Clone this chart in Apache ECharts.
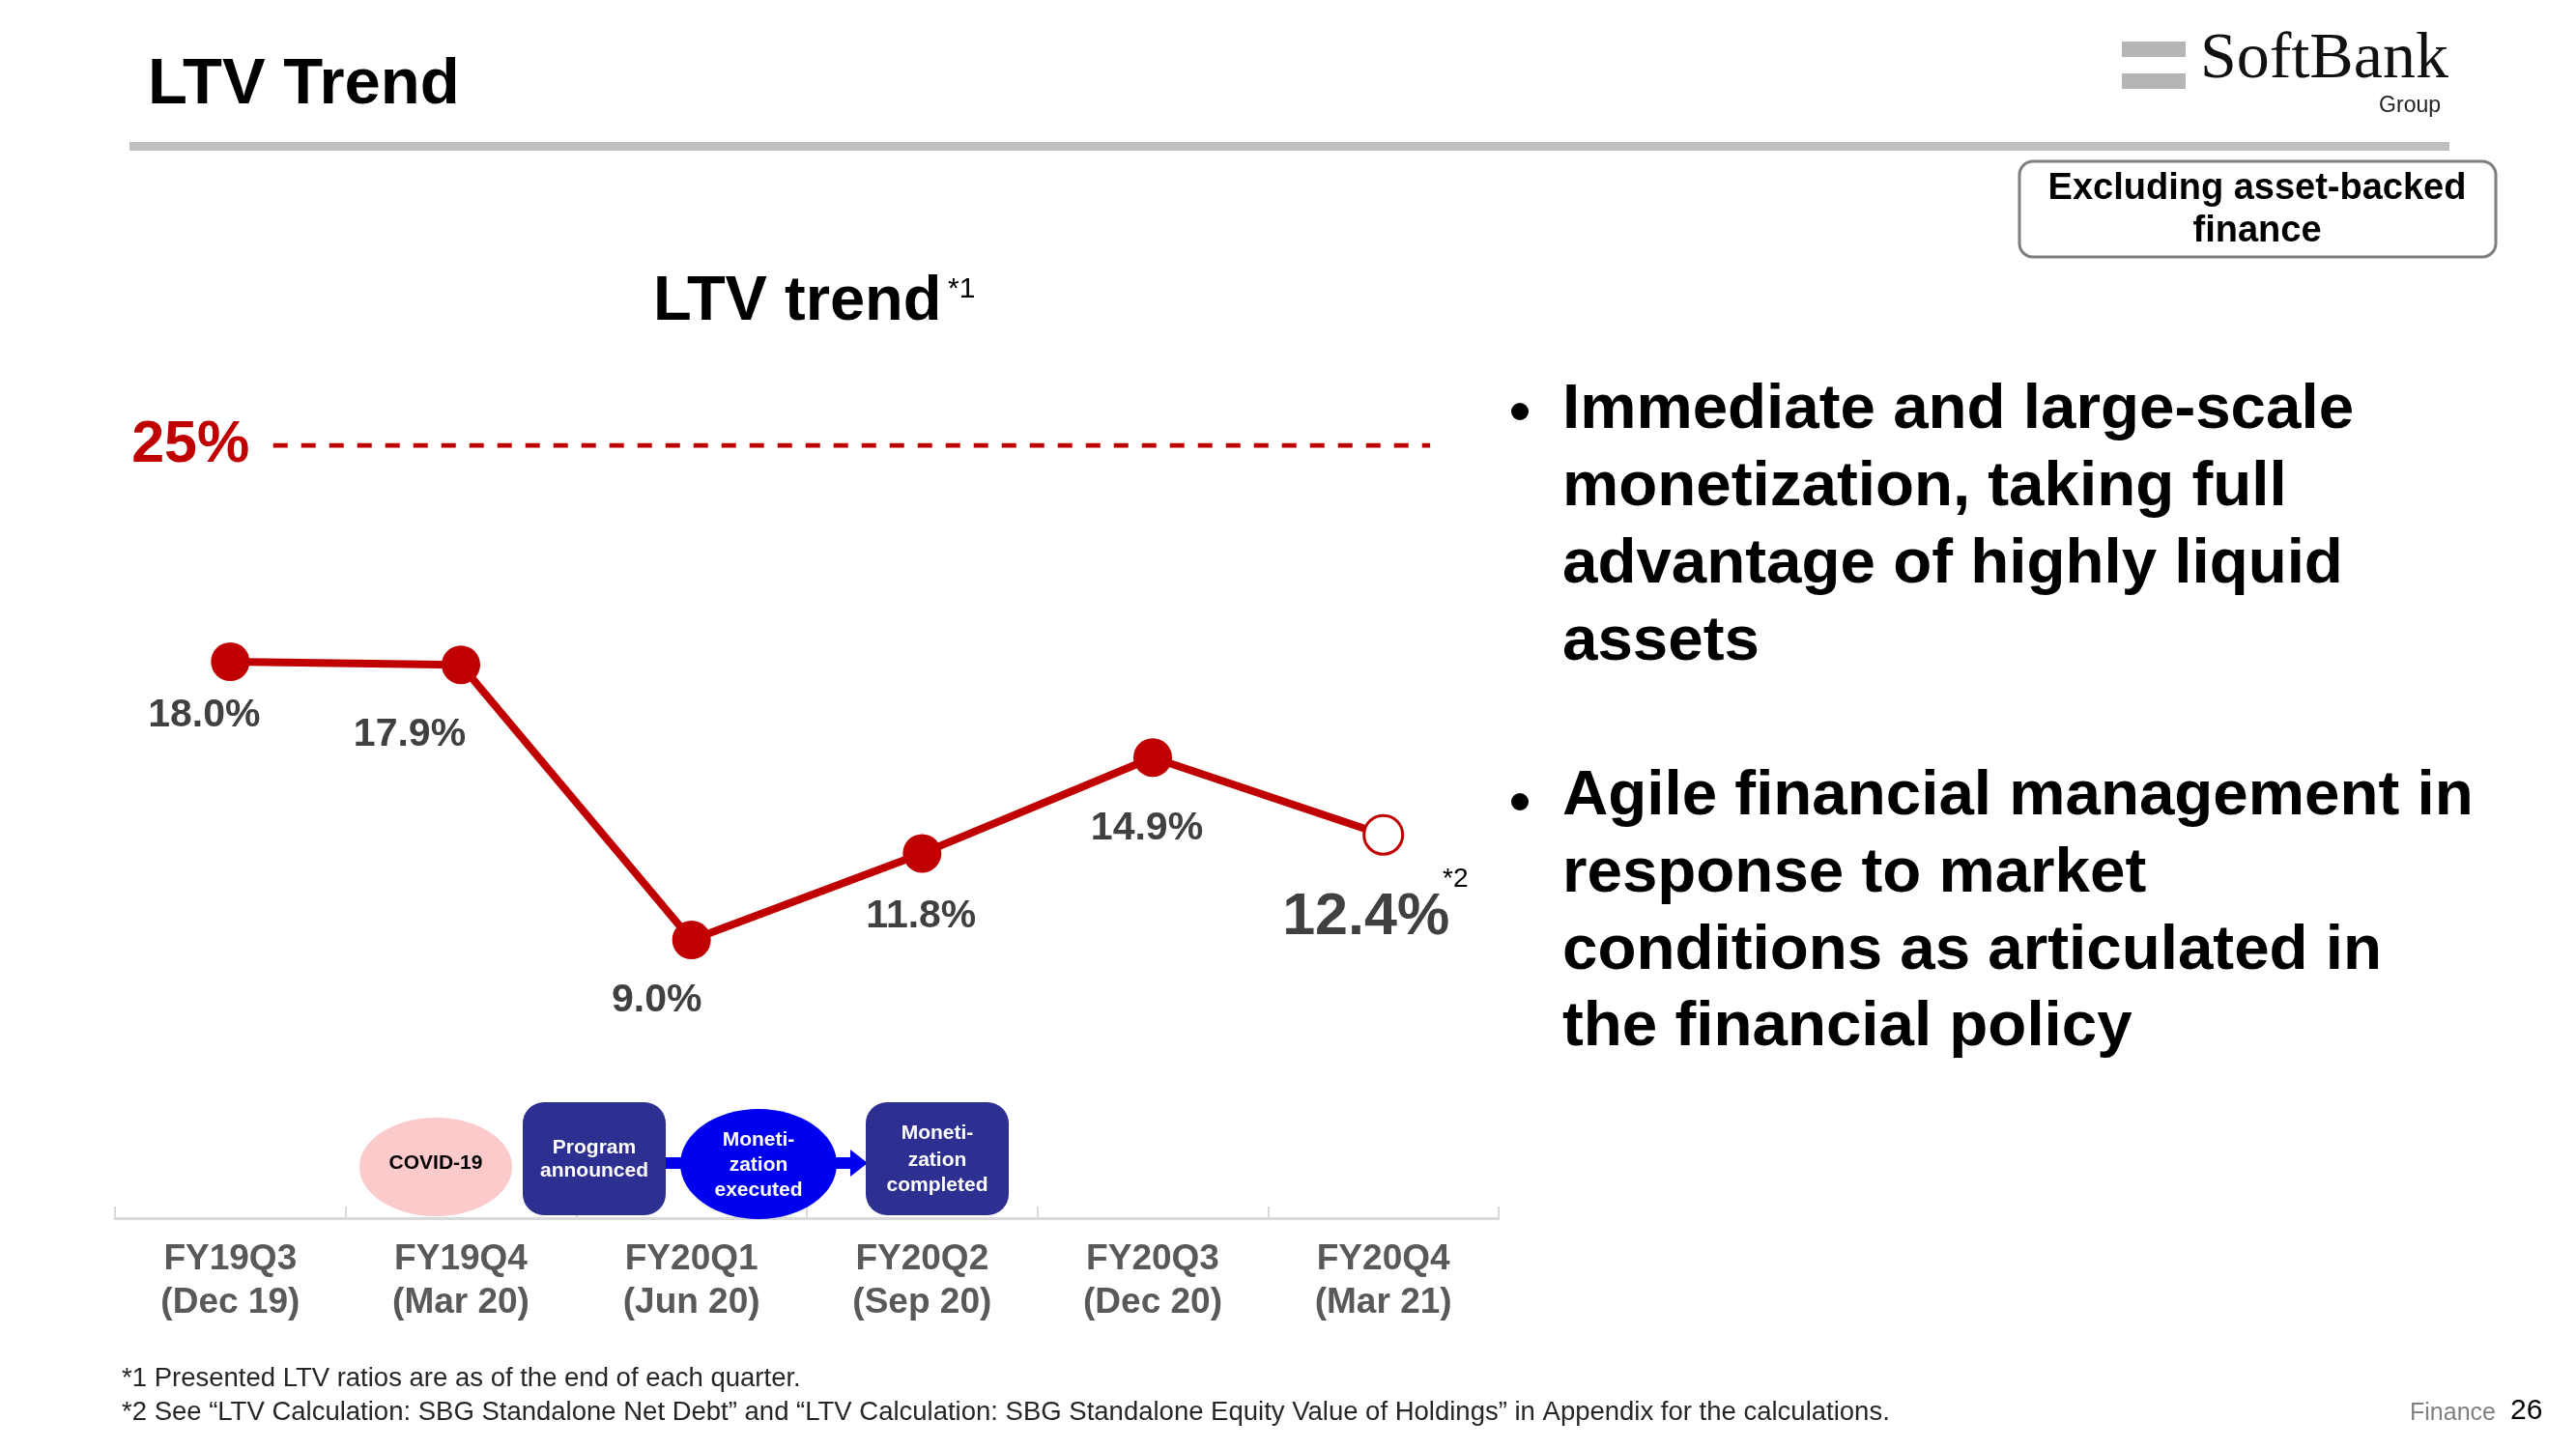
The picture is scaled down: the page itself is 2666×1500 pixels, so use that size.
<!DOCTYPE html>
<html>
<head>
<meta charset="utf-8">
<script src="https://cdn.jsdelivr.net/npm/echarts@6/dist/echarts.min.js"></script>
<style>html,body{margin:0;padding:0;background:#fff}#chart{width:2666px;height:1500px}</style>
</head>
<body>
<div id="chart"></div>
<script>
// ---- data ----
const categories = ['FY19Q3\n(Dec 19)', 'FY19Q4\n(Mar 20)', 'FY20Q1\n(Jun 20)', 'FY20Q2\n(Sep 20)', 'FY20Q3\n(Dec 20)', 'FY20Q4\n(Mar 21)'];
const ltvValues = [18.0, 17.9, 9.0, 11.8, 14.9, 12.4];
const thresholdValue = 25;
const bullet1 = ['Immediate and large-scale', 'monetization, taking full', 'advantage of highly liquid', 'assets'];
const bullet2 = ['Agile financial management in', 'response to market', 'conditions as articulated in', 'the financial policy'];
const footnotes = ['*1 Presented LTV ratios are as of the end of each quarter.',
  '*2 See \u201cLTV Calculation: SBG Standalone Net Debt\u201d and \u201cLTV Calculation: SBG Standalone Equity Value of Holdings\u201d in Appendix for the calculations.'];

// ---- styling ----
const F = "'Liberation Sans', Arial, sans-serif";
const RED = '#c00000';
const NAVY = '#2e3091';
const BLUE = '#0000f0';
const labelOffsets = [[-27, 56], [-53, 72], [-36, 63], [-1, 65], [-6, 73], [-18, 86]];
const threshStart = 0.186, threshEnd = 5.203; // extent of dashed line in category units

const seriesData = ltvValues.map((v, i) => {
  const last = i === ltvValues.length - 1;
  const item = { value: v, label: { offset: labelOffsets[i] } };
  if (last) {
    item.itemStyle = { color: '#ffffff', borderColor: RED, borderWidth: 3 };
    item.label.fontSize = 61;
  }
  return item;
});

function txt(text, x, y, size, opts) {
  opts = opts || {};
  return {
    type: 'text', z: 100,
    style: {
      text: text, x: x, y: y,
      fill: opts.fill || '#000',
      font: (opts.weight || 'bold') + ' ' + size + 'px ' + (opts.family || F),
      textAlign: opts.align || 'left',
      textVerticalAlign: 'middle'
    }
  };
}

const graphics = [];
// header
graphics.push(txt('LTV Trend', 153, 89, 67));
graphics.push({ type: 'rect', z: 90, shape: { x: 134, y: 147, width: 2401, height: 9 }, style: { fill: '#bfbfbf' } });
// logo
graphics.push({ type: 'rect', z: 90, shape: { x: 2196, y: 43, width: 66, height: 16 }, style: { fill: '#b5b5b5' } });
graphics.push({ type: 'rect', z: 90, shape: { x: 2196, y: 76, width: 66, height: 16 }, style: { fill: '#b5b5b5' } });
graphics.push({ type: 'text', z: 100, style: { text: 'SoftBank', x: 2277, y: 96, fill: '#111', font: 'normal 68px "Liberation Serif", serif', textAlign: 'left', textVerticalAlign: 'bottom' } });
graphics.push(txt('Group', 2526, 110, 23, { weight: 'normal', align: 'right', fill: '#222' }));
// box
graphics.push({ type: 'rect', z: 90, shape: { x: 2090, y: 167, width: 493, height: 99, r: 14 }, style: { fill: '#fff', stroke: '#7f7f7f', lineWidth: 3 } });
graphics.push(txt('Excluding asset-backed', 2336, 196, 38, { align: 'center' }));
graphics.push(txt('finance', 2336, 240, 38, { align: 'center' }));
// chart title
graphics.push(txt('LTV trend', 676, 313, 65));
graphics.push(txt('*1', 981, 300, 30, { weight: 'normal' }));
graphics.push(txt('*2', 1493, 910, 28, { weight: 'normal' }));
// bullets
const b1y = [425, 505, 585, 665], b2y = [825, 905, 985, 1064];
bullet1.forEach((t, i) => graphics.push(txt(t, 1617, b1y[i], 65.5)));
bullet2.forEach((t, i) => graphics.push(txt(t, 1617, b2y[i], 65.5)));
graphics.push({ type: 'circle', z: 100, shape: { cx: 1573, cy: 426, r: 9 }, style: { fill: '#000' } });
graphics.push({ type: 'circle', z: 100, shape: { cx: 1573, cy: 830, r: 9 }, style: { fill: '#000' } });
// timeline shapes
graphics.push({ type: 'ellipse', z: 95, shape: { cx: 451, cy: 1208, rx: 79, ry: 51 }, style: { fill: '#fbcaca' } });
graphics.push(txt('COVID-19', 451, 1204, 21, { align: 'center' }));
graphics.push({ type: 'line', z: 95, shape: { x1: 685, y1: 1204, x2: 884, y2: 1204 }, style: { stroke: BLUE, lineWidth: 12 } });
graphics.push({ type: 'polygon', z: 95, shape: { points: [[880, 1190], [898, 1204], [880, 1218]] }, style: { fill: BLUE } });
graphics.push({ type: 'rect', z: 96, shape: { x: 541, y: 1141, width: 148, height: 117, r: 22 }, style: { fill: NAVY } });
graphics.push(txt('Program', 615, 1188, 21, { align: 'center', fill: '#fff' }));
graphics.push(txt('announced', 615, 1212, 21, { align: 'center', fill: '#fff' }));
graphics.push({ type: 'ellipse', z: 96, shape: { cx: 785, cy: 1205, rx: 81, ry: 57 }, style: { fill: BLUE } });
graphics.push(txt('Moneti-', 785, 1180, 21, { align: 'center', fill: '#fff' }));
graphics.push(txt('zation', 785, 1206, 21, { align: 'center', fill: '#fff' }));
graphics.push(txt('executed', 785, 1232, 21, { align: 'center', fill: '#fff' }));
graphics.push({ type: 'rect', z: 96, shape: { x: 896, y: 1141, width: 148, height: 117, r: 22 }, style: { fill: NAVY } });
graphics.push(txt('Moneti-', 970, 1173, 21, { align: 'center', fill: '#fff' }));
graphics.push(txt('zation', 970, 1201, 21, { align: 'center', fill: '#fff' }));
graphics.push(txt('completed', 970, 1227, 21, { align: 'center', fill: '#fff' }));
// footnotes
graphics.push(txt(footnotes[0], 126, 1427, 27.5, { weight: 'normal', fill: '#262626' }));
graphics.push(txt(footnotes[1], 126, 1462, 27.5, { weight: 'normal', fill: '#262626' }));
graphics.push(txt('Finance', 2494, 1463, 25, { weight: 'normal', fill: '#808080' }));
graphics.push(txt('26', 2598, 1461, 30, { weight: 'normal', fill: '#000' }));

const chart = echarts.init(document.getElementById('chart'), null, { renderer: 'canvas' });
chart.setOption({
  animation: false,
  backgroundColor: '#ffffff',
  grid: { left: 119, right: 1115, top: 461, bottom: 239, containLabel: false },
  xAxis: [{
    type: 'category', data: categories, boundaryGap: true,
    axisLine: { lineStyle: { color: '#d9d9d9', width: 3 } },
    axisTick: { show: true, inside: true, length: 12, alignWithLabel: false, lineStyle: { color: '#d9d9d9', width: 2 } },
    axisLabel: { color: '#595959', fontSize: 37, fontWeight: 'bold', fontFamily: F, lineHeight: 45, margin: 20 },
    splitLine: { show: false }
  }, {
    type: 'value', min: -0.5, max: 5.5, show: false
  }],
  yAxis: { type: 'value', min: 0, max: 25, show: false, splitLine: { show: false } },
  series: [{
    type: 'line', xAxisIndex: 1, z: 1,
    data: [{ value: [threshStart, thresholdValue], label: { show: true } }, { value: [threshEnd, thresholdValue] }],
    symbol: 'circle', symbolSize: 1, showSymbol: true, silent: true,
    itemStyle: { color: 'rgba(0,0,0,0)' },
    lineStyle: { color: RED, width: 5, type: [15, 14] },
    label: { show: false, position: 'left', distance: 24, color: RED, fontSize: 61, fontWeight: 'bold', fontFamily: F, formatter: p => p.value[1] + '%' }
  }, {
    type: 'line', data: seriesData, z: 5,
    symbol: 'circle', symbolSize: 40,
    itemStyle: { color: RED },
    lineStyle: { color: RED, width: 8 },
    label: { show: true, position: 'inside', color: '#404040', fontSize: 41, fontWeight: 'bold', fontFamily: F,
      formatter: p => p.value.toFixed(1) + '%' }
  }],
  graphic: { elements: graphics }
});
</script>
</body>
</html>
